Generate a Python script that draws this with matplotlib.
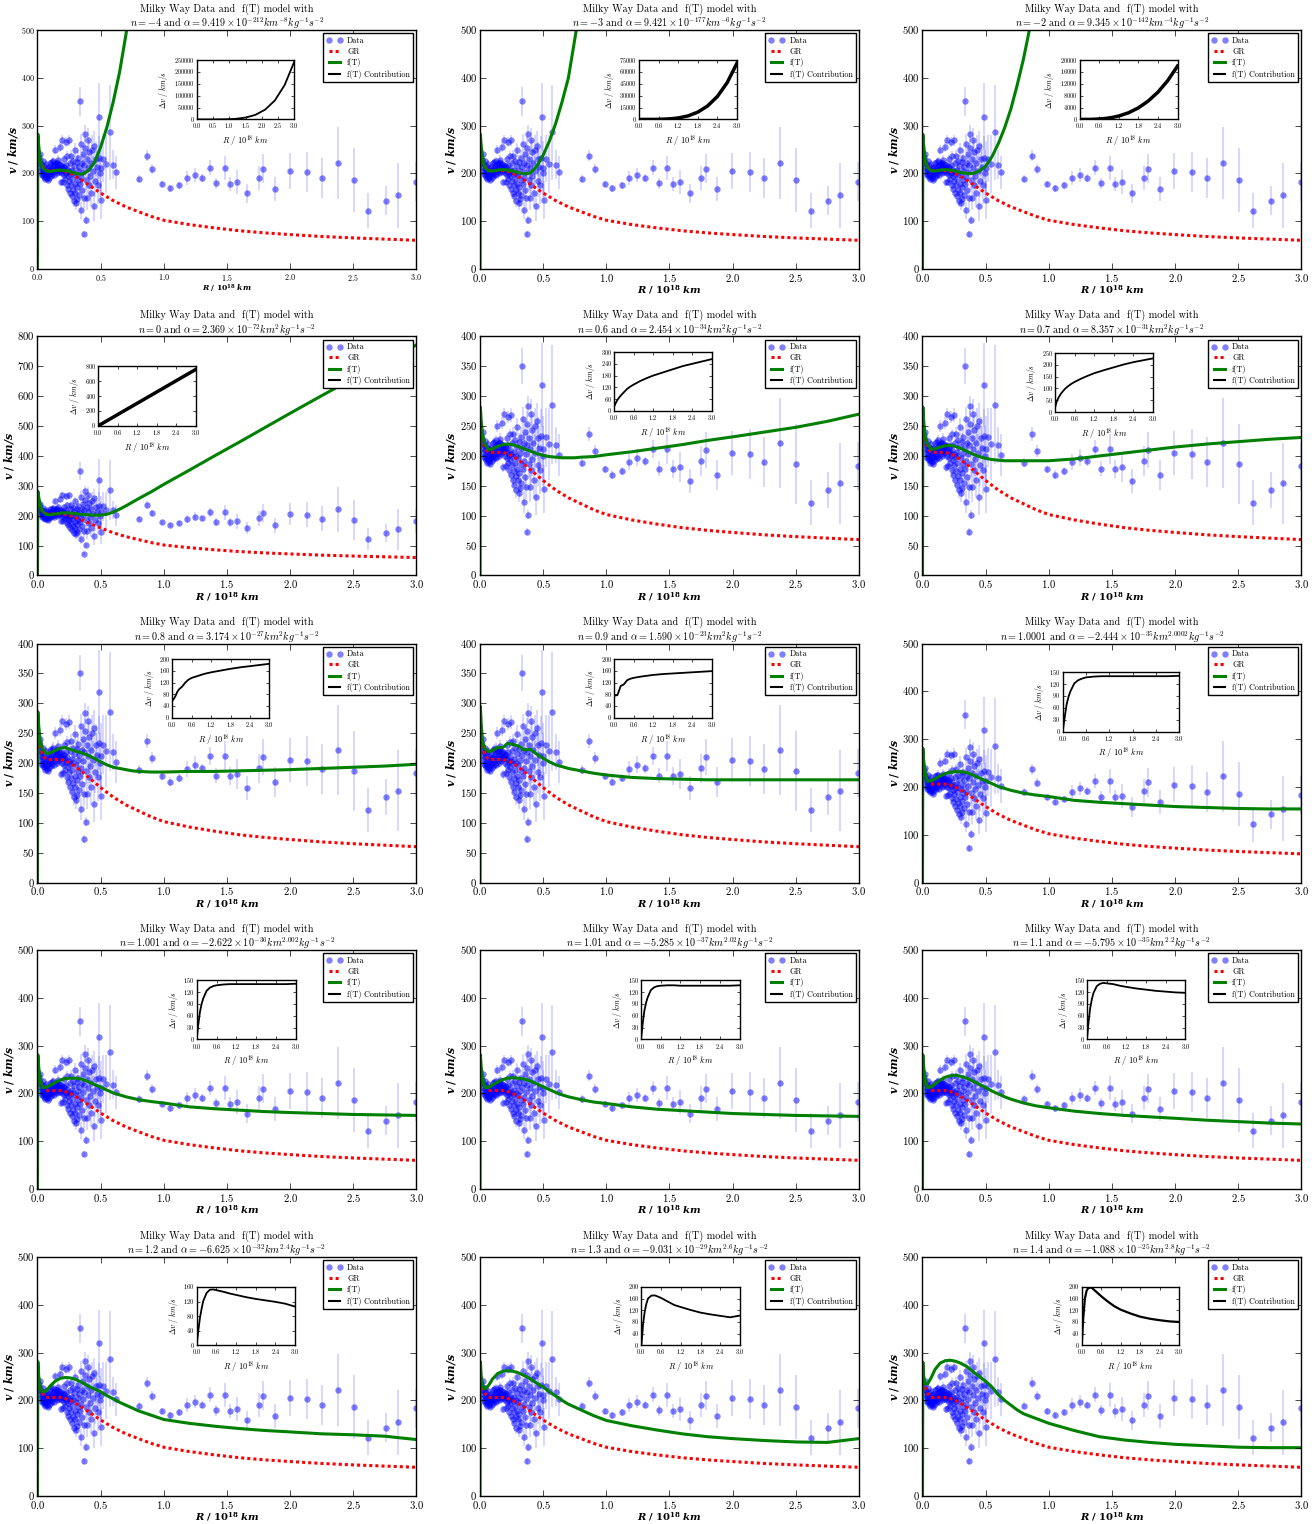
import matplotlib
matplotlib.use("Agg")
import matplotlib.pyplot as plt
from matplotlib.lines import Line2D
from matplotlib.ticker import MultipleLocator

plt.style.use("classic")
plt.rcParams["font.family"] = "cmr10"
plt.rcParams["mathtext.fontset"] = "cm"
plt.rcParams["axes.formatter.use_mathtext"] = True

# ---- Milky Way rotation curve data: R in 1e18 km, v in km/s ----
R_data = [0.010, 0.014, 0.018, 0.021, 0.024, 0.027, 0.030, 0.033, 0.036, 0.039,
          0.042, 0.045, 0.048, 0.051, 0.054, 0.057, 0.060, 0.063, 0.066, 0.069,
          0.072, 0.075, 0.078, 0.081, 0.084, 0.087, 0.090, 0.093, 0.096, 0.099,
          0.102, 0.105, 0.108, 0.111, 0.114, 0.117, 0.120, 0.123, 0.126, 0.129,
          0.132, 0.135, 0.138, 0.141, 0.144, 0.147, 0.150, 0.153, 0.156, 0.159,
          0.162, 0.165, 0.168, 0.171, 0.174, 0.177, 0.180, 0.183, 0.186, 0.189,
          0.192, 0.195, 0.198,
          0.201, 0.204, 0.207, 0.210, 0.213, 0.216, 0.219, 0.222, 0.225, 0.228,
          0.231, 0.234, 0.237, 0.240, 0.243, 0.246, 0.249, 0.252, 0.255, 0.258,
          0.261, 0.264, 0.267, 0.270, 0.273, 0.276, 0.279, 0.282, 0.285, 0.288,
          0.291, 0.294, 0.297, 0.300,
          0.303, 0.306, 0.309, 0.312, 0.315, 0.318, 0.321, 0.324, 0.327, 0.330,
          0.335, 0.338, 0.342, 0.345, 0.348, 0.351, 0.355, 0.358, 0.362, 0.366,
          0.370, 0.372, 0.376, 0.380, 0.383, 0.386, 0.390, 0.394, 0.398, 0.402,
          0.406, 0.410, 0.414, 0.420, 0.426, 0.432, 0.438, 0.444, 0.450, 0.456,
          0.462, 0.470, 0.478, 0.485, 0.490, 0.495, 0.500, 0.505, 0.520, 0.545,
          0.573, 0.600, 0.623,
          0.805, 0.865, 0.908, 0.987, 1.047, 1.124, 1.182, 1.245, 1.303, 1.369,
          1.417, 1.483, 1.525, 1.583, 1.660, 1.752, 1.786, 1.879, 1.995, 2.135,
          2.250, 2.375, 2.504, 2.617, 2.755, 2.850, 2.995]
v_data = [235, 228, 222, 240, 214, 205, 219, 199, 210, 196,
          225, 204, 193, 215, 198, 189, 207, 194, 220, 201,
          190, 211, 196, 186, 205, 198, 214, 191, 208, 200,
          222, 195, 211, 203, 224, 199, 215, 207, 226, 196,
          218, 209, 250, 204, 220, 212, 221, 200, 222, 208,
          228, 214, 203, 219, 210, 255, 206, 218, 181, 212,
          270, 200, 216,
          208, 183, 214, 230, 197, 206, 188, 218, 266, 201,
          176, 210, 236, 194, 168, 204, 269, 185, 221, 160,
          198, 237, 175, 207, 152, 189, 226, 166, 200, 143,
          215, 178, 249, 160,
          196, 138, 224, 171, 147, 205, 187, 232, 155, 214,
          351, 178, 262, 192, 123, 222, 165, 240, 203, 148,
          73, 218, 254, 283, 102, 187, 230, 148, 211, 270,
          176, 244, 195, 222, 160, 250, 205, 131, 258, 185,
          230, 213, 176, 233, 319, 200, 212, 145, 231, 220,
          286, 218, 202,
          189, 237, 209, 178, 169, 175, 190, 197, 191, 212,
          179, 212, 178, 182, 158, 191, 210, 168, 205, 203,
          190, 222, 186, 122, 143, 154, 183]
v_err = [6, 5, 5, 8, 5, 5, 6, 4, 5, 4,
         8, 5, 4, 6, 5, 4, 5, 4, 7, 5,
         4, 6, 5, 4, 5, 5, 6, 4, 5, 5,
         7, 5, 5, 5, 8, 5, 6, 5, 9, 6,
         6, 5, 10, 5, 7, 5, 9, 6, 7, 5,
         10, 6, 5, 8, 5, 10, 6, 6, 7, 5,
         10, 6, 7,
         6, 8, 6, 9, 6, 6, 8, 7, 10, 7,
         9, 7, 10, 8, 10, 7, 12, 9, 8, 10,
         8, 12, 10, 8, 12, 10, 12, 12, 10, 14,
         12, 12, 15, 14,
         12, 15, 14, 14, 15, 14, 14, 16, 15, 15,
         30, 16, 20, 16, 18, 18, 18, 20, 18, 20,
         6, 20, 22, 18, 8, 22, 22, 25, 22, 25,
         25, 25, 28, 28, 30, 30, 32, 30, 30, 35,
         35, 38, 40, 45, 70, 50, 55, 40, 50, 60,
         100, 30, 35,
         8, 12, 10, 6, 7, 7, 14, 14, 8, 15,
         12, 25, 15, 25, 20, 25, 30, 25, 37, 42,
         42, 75, 67, 37, 30, 68, 40]

# ---- GR prediction ----
R_gr = [0.005, 0.02, 0.04, 0.06, 0.08, 0.10, 0.14, 0.18, 0.22, 0.26, 0.30, 0.35,
        0.40, 0.45, 0.50, 0.60, 0.70, 0.80, 0.90, 1.00, 1.20, 1.40, 1.60, 1.80,
        2.00, 2.25, 2.50, 2.75, 3.00]
v_gr = [240, 228, 215, 208, 206, 206, 206, 206, 204, 200, 194, 186,
        177, 168, 159, 143, 130, 120, 110, 102, 93, 86, 80, 75.5,
        72, 68, 65, 62.5, 60]

# ---- f(T) model velocity, common R grid ----
R_ft = [0.0, 0.003, 0.01, 0.02, 0.04, 0.07, 0.10, 0.14, 0.18, 0.22, 0.26, 0.30,
        0.35, 0.40, 0.45, 0.50, 0.55, 0.60, 0.65, 0.70, 0.75, 0.80, 0.90, 1.0,
        1.2, 1.4, 1.6, 1.8, 2.0, 2.25, 2.5, 2.75, 3.0]
v_ft_m4 = [0, 282, 258, 232, 212, 205, 204, 206, 207, 206, 204, 200,
           198, 205, 222, 255, 297, 350, 412, 490, 580]
v_ft_m3 = [0, 282, 258, 232, 212, 205, 205, 207, 208, 207, 205, 202,
           199, 201, 215, 238, 268, 305, 350, 400, 480, 560]
v_ft_m2 = [0, 282, 258, 232, 212, 205, 205, 207, 208, 207, 205, 202,
           200, 200, 205, 215, 235, 262, 295, 335, 385, 440, 570]
v_ft_0 = [0, 282, 262, 240, 215, 204, 203, 206, 209, 210, 209, 207,
          204, 203, 202, 202, 205, 212, 222, 233, 245, 257, 280, 305,
          352, 400, 447, 495, 543, 602, 660, 716, 772]
v_ft_06 = [0, 282, 258, 235, 220, 210, 212, 216, 219, 220, 219, 216,
           212, 208, 204, 201, 199, 198, 197, 197, 197, 198, 199, 202,
           207, 213, 219, 226, 232, 240, 248, 258, 270]
v_ft_07 = [0, 282, 258, 235, 220, 211, 212, 215, 217, 218, 216, 213,
           208, 203, 199, 196, 194, 193, 192, 192, 192, 192, 192, 192,
           195, 200, 205, 210, 215, 220, 224, 228, 231]
v_ft_08 = [0, 286, 262, 240, 224, 216, 217, 221, 225, 226, 223, 220,
           217, 213, 208, 202, 197, 193, 191, 189, 187, 186, 185, 185,
           186, 186, 187, 188, 189, 191, 193, 195, 198]
v_ft_09 = [0, 295, 265, 236, 224, 219, 221, 226, 226, 233, 231, 229,
           222, 223, 215, 208, 202, 197, 194, 191, 189, 187, 183, 180,
           176, 174, 173, 172, 172, 172, 172, 172, 172]
v_ft_10001 = [0, 281, 255, 232, 212, 213, 217, 223, 228, 231, 232, 232,
              230, 225, 219, 213, 207, 201, 197, 193, 190, 187, 183, 180,
              172, 168, 165, 162, 159, 157, 155, 154, 154]
v_ft_1001 = [0, 281, 255, 232, 212, 213, 217, 223, 228, 231, 232, 232,
             230, 225, 219, 213, 207, 201, 197, 193, 190, 187, 183, 180,
             172, 168, 165, 162, 160, 158, 156, 155, 154]
v_ft_101 = [0, 281, 255, 232, 212, 213, 218, 224, 229, 232, 233, 232,
            230, 226, 220, 214, 208, 202, 197, 193, 190, 187, 182, 179,
            172, 167, 164, 161, 158, 156, 154, 153, 152]
v_ft_11 = [0, 281, 255, 232, 212, 214, 220, 228, 234, 237, 238, 236,
           232, 226, 219, 212, 205, 199, 193, 188, 184, 180, 174, 170,
           163, 158, 154, 151, 148, 144, 141, 138, 136]
v_ft_12 = [0, 281, 250, 228, 218, 220, 230, 240, 246, 248, 247, 244,
           238, 230, 224, 218, 210, 203, 196, 190, 184, 178, 169, 160,
           152, 146, 141, 137, 134, 130, 128, 125, 118]
v_ft_13 = [0, 281, 250, 230, 224, 232, 245, 256, 261, 262, 261, 258,
           252, 245, 236, 228, 218, 209, 200, 192, 186, 180, 168, 158,
           147, 138, 130, 124, 120, 116, 113, 112, 120]
v_ft_14 = [0, 280, 250, 236, 234, 248, 265, 278, 283, 284, 282, 278,
           271, 260, 250, 240, 228, 212, 200, 190, 180, 172, 162, 152,
           137, 124, 117, 112, 108, 105, 102, 101, 101]

# ---- f(T) contribution (inset), common R grid ----
R_ins = [0.0, 0.05, 0.10, 0.15, 0.20, 0.30, 0.40, 0.50, 0.60, 0.80, 1.0, 1.2,
         1.5, 1.8, 2.1, 2.4, 2.7, 3.0]
dv_m4 = [0, 0, 0, 0, 0, 0, 0, 0, 0, 300, 1000, 2500, 7700, 19000, 41000, 80000, 145000, 245000]
dv_m3 = [0, 0, 0, 0, 0, 0, 0, 0, 100, 400, 900, 1800, 4400, 9200, 17000, 29000, 46500, 71000]
dv_m2 = [0, 0, 0, 0, 0, 0, 40, 80, 140, 330, 670, 1150, 2250, 3900, 6200, 9200, 13100, 18000]
dv_0 = [0, 13, 25, 38, 51, 76, 101, 127, 152, 203, 253, 304, 380, 456, 532, 608, 684, 760]
dv_06 = [22, 40, 55, 67, 77, 95, 112, 124, 134, 152, 167, 180, 196, 212, 228, 240, 252, 264]
dv_07 = [20, 45, 60, 72, 82, 98, 110, 120, 128, 142, 154, 165, 178, 190, 202, 212, 220, 228]
dv_08 = [58, 65, 75, 88, 96, 106, 120, 130, 136, 143, 150, 155, 161, 167, 172, 176, 180, 184]
dv_09 = [75, 76, 77, 92, 108, 114, 128, 133, 136, 140, 143, 146, 149, 151, 153, 155, 157, 159]
dv_10001 = [0, 35, 68, 88, 102, 122, 130, 134, 137, 139, 140, 140, 140, 140, 140, 140, 140, 141]
dv_1001 = [0, 38, 70, 90, 104, 123, 131, 135, 137, 139, 140, 140, 140, 140, 140, 140, 140, 141]
dv_101 = [0, 40, 72, 92, 106, 125, 132, 135, 136, 137, 137, 136, 136, 136, 136, 136, 136, 137]
dv_11 = [0, 45, 80, 102, 118, 135, 141, 143, 142, 140, 136, 133, 129, 126, 123, 121, 119, 118]
dv_12 = [0, 40, 75, 100, 121, 143, 152, 153, 151, 147, 142, 138, 132, 127, 123, 119, 114, 106]
dv_13 = [0, 72, 115, 142, 160, 170, 171, 167, 162, 150, 138, 131, 121, 112, 106, 101, 96, 102]
dv_14 = [0, 95, 160, 186, 196, 198, 188, 178, 168, 150, 134, 122, 109, 98, 91, 86, 82, 80]

# ---- panel parameters ----
n_vals = ["-4", "-3", "-2", "0", "0.6", "0.7", "0.8", "0.9",
          "1.0001", "1.001", "1.01", "1.1", "1.2", "1.3", "1.4"]
alpha_mant = ["9.419", "9.421", "9.345", "2.369", "2.454", "8.357", "3.174", "1.590",
              "-2.444", "-2.622", "-5.285", "-5.795", "-6.625", "-9.031", "-1.088"]
alpha_exp = ["-212", "-177", "-142", "-72", "-34", "-31", "-27", "-23",
             "-35", "-36", "-37", "-35", "-32", "-29", "-25"]
km_pow = ["-8", "-6", "-4", "2", "2", "2", "2", "2",
          "2.0002", "2.002", "2.02", "2.2", "2.4", "2.6", "2.8"]
v_ft = [v_ft_m4, v_ft_m3, v_ft_m2, v_ft_0, v_ft_06, v_ft_07, v_ft_08, v_ft_09,
        v_ft_10001, v_ft_1001, v_ft_101, v_ft_11, v_ft_12, v_ft_13, v_ft_14]
dv_ft = [dv_m4, dv_m3, dv_m2, dv_0, dv_06, dv_07, dv_08, dv_09,
         dv_10001, dv_1001, dv_101, dv_11, dv_12, dv_13, dv_14]
y_max = [500, 500, 500, 800, 400, 400, 400, 400, 500, 500, 500, 500, 500, 500, 500]
y_step = [100, 100, 100, 100, 50, 50, 50, 50, 100, 100, 100, 100, 100, 100, 100]
ins_max = [250000, 75000, 20000, 800, 300, 250, 200, 200, 150, 150, 150, 150, 160, 200, 200]
ins_step = [50000, 15000, 4000, 200, 60, 50, 40, 40, 30, 30, 30, 30, 40, 40, 40]

# layout (figure fractions) and styles
col_left = [0.0285, 0.365, 0.7015]
row_bottom = [0.8235, 0.6224, 0.4209, 0.2198, 0.0184]
ax_w, ax_h = 0.2882, 0.1568
ins_rect = [[0.42, 0.626, 0.258, 0.248], [0.42, 0.626, 0.258, 0.248], [0.415, 0.626, 0.258, 0.248],
            [0.16, 0.626, 0.258, 0.249], [0.354, 0.689, 0.258, 0.246], [0.35, 0.684, 0.258, 0.246],
            [0.356, 0.69, 0.256, 0.245], [0.354, 0.69, 0.258, 0.245], [0.37, 0.632, 0.307, 0.248],
            [0.42, 0.626, 0.262, 0.248], [0.425, 0.626, 0.26, 0.248], [0.434, 0.626, 0.26, 0.248],
            [0.42, 0.63, 0.26, 0.245], [0.426, 0.63, 0.26, 0.245], [0.42, 0.63, 0.258, 0.245]]
ins_lw = [1.3, 2.5, 2.5, 2.5, 1.3, 1.3, 1.3, 1.3, 1.3, 1.3, 1.3, 1.3, 1.3, 1.3, 1.6]

fig = plt.figure(figsize=(13.15, 15.24), dpi=100)

for i in range(15):
    r, c = divmod(i, 3)
    small = (i == 0)
    ax = fig.add_axes([col_left[c], row_bottom[r], ax_w, ax_h])

    ax.errorbar(R_data, v_data, yerr=v_err, fmt="none", ecolor="blue",
                elinewidth=1.3, alpha=0.17, capsize=0)
    data_line, = ax.plot(R_data, v_data, "o", color="blue", alpha=0.5,
                         ms=4.6, mew=0)
    gr_line, = ax.plot(R_gr, v_gr, color="red", lw=2.2, dashes=(2.2, 2.2))
    vf = v_ft[i]
    ft_line, = ax.plot(R_ft[:len(vf)], vf, color="green", lw=2.2)

    ax.set_xlim(0, 3.0)
    ax.set_ylim(0, y_max[i])
    ax.xaxis.set_major_locator(MultipleLocator(0.5))
    ax.yaxis.set_major_locator(MultipleLocator(y_step[i]))
    ax.tick_params(labelsize=5.8 if small else 7.7, length=4, pad=2)

    ax.set_title("Milky Way Data and  f(T) model with\n"
                 + r"$n = %s$ and $\alpha = %s \times 10^{%s} km^{%s} kg^{-1} s^{-2}$"
                 % (n_vals[i], alpha_mant[i], alpha_exp[i], km_pow[i]),
                 fontsize=7.3, pad=2, linespacing=1.1)
    ax.set_xlabel(r"$\mathbfit{R}\ \mathbf{/}\ \mathbf{10}^{\mathbf{18}}\ \mathbfit{km}$",
                  fontsize=5.5 if small else 7.2, math_fontfamily="dejavuserif",
                  labelpad=0)
    ax.set_ylabel(r"$\mathbfit{v}\ \mathbf{/}\ \mathbfit{km/s}$", fontsize=7.8,
                  math_fontfamily="dejavuserif", labelpad=1)

    contrib = Line2D([], [], color="black", lw=1.5)
    ax.legend([data_line, gr_line, ft_line, contrib],
              ["Data", "GR", "f(T)", "f(T) Contribution"],
              loc="upper right", fontsize=5.8, numpoints=2, labelspacing=0.3,
              borderaxespad=0.4, handlelength=2.0, handletextpad=0.6,
              borderpad=0.4, fancybox=False)

    ins = ax.inset_axes(ins_rect[i])
    ins.plot(R_ins, dv_ft[i], color="black", lw=ins_lw[i])
    ins.set_xlim(0, 3.0)
    ins.set_ylim(0, ins_max[i])
    ins.xaxis.set_major_locator(MultipleLocator(0.5 if small else 0.6))
    ins.yaxis.set_major_locator(MultipleLocator(ins_step[i]))
    ins.tick_params(labelsize=4.6, length=2.5, pad=1.5)
    ins.set_xlabel(r"$R\ /\ 10^{18}\ km$", fontsize=6, labelpad=2)
    ins.set_ylabel(r"$\Delta v\ /\ km/s$", fontsize=5.5, labelpad=2.5)

fig.savefig("out.png", dpi=100)
